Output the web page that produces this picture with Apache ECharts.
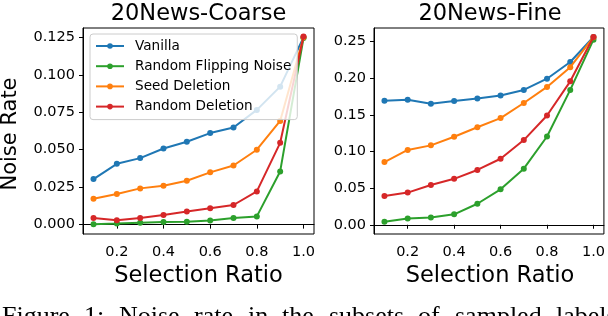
<!DOCTYPE html>
<html>
<head>
<meta charset="utf-8">
<script src="https://cdn.jsdelivr.net/npm/echarts@6/dist/echarts.min.js"></script>
<style>
html,body{margin:0;padding:0;background:#fff;}
#chart{width:608px;height:316px;}
</style>
</head>
<body>
<div id="chart"></div>
<script>
// ---- data ----
var selectionRatio = [0.1, 0.2, 0.3, 0.4, 0.5, 0.6, 0.7, 0.8, 0.9, 1.0];
var seriesNames = ['Vanilla', 'Random Flipping Noise', 'Seed Deletion', 'Random Deletion'];

var coarseVanilla   = [0.0304, 0.0406, 0.0444, 0.0508, 0.0553, 0.0611, 0.0648, 0.0766, 0.0921, 0.1250];
var coarseFlip      = [0.0003, 0.0007, 0.0013, 0.0018, 0.0020, 0.0027, 0.0044, 0.0055, 0.0355, 0.1245];
var coarseSeedDel   = [0.0173, 0.0204, 0.0242, 0.0260, 0.0293, 0.0349, 0.0395, 0.0500, 0.0692, 0.1250];
var coarseRandDel   = [0.0044, 0.0029, 0.0044, 0.0064, 0.0087, 0.0109, 0.0131, 0.0222, 0.0546, 0.1255];

var fineVanilla     = [0.1694, 0.1707, 0.1653, 0.1689, 0.1725, 0.1765, 0.1841, 0.1994, 0.2222, 0.2563];
var fineFlip        = [0.0040, 0.0085, 0.0099, 0.0143, 0.0287, 0.0484, 0.0766, 0.1205, 0.1841, 0.2527];
var fineSeedDel     = [0.0856, 0.1022, 0.1084, 0.1201, 0.1331, 0.1456, 0.1662, 0.1882, 0.2151, 0.2560];
var fineRandDel     = [0.0394, 0.0439, 0.0542, 0.0627, 0.0748, 0.0901, 0.1156, 0.1492, 0.1958, 0.2563];

var xTicks = [0.2, 0.4, 0.6, 0.8, 1.0];
var coarseYTicks = [0, 0.025, 0.05, 0.075, 0.1, 0.125];
var fineYTicks = [0, 0.05, 0.1, 0.15, 0.2, 0.25];

var titles = ['20News-Coarse', '20News-Fine'];
var xLabel = 'Selection Ratio';
var yLabel = 'Noise Rate';
var captionWords = ['Figure', '1:', 'Noise', 'rate', 'in', 'the', 'subsets', 'of', 'sampled', 'labels'];

// ---- styling ----
var colors = ['#1f77b4', '#2ca02c', '#ff7f0e', '#d62728'];
var FONT = 'DejaVu Sans';

function pairs(vals) {
  return selectionRatio.map(function (x, i) { return [x, vals[i]]; });
}

var coarseSets = [coarseVanilla, coarseFlip, coarseSeedDel, coarseRandDel];
var fineSets = [fineVanilla, fineFlip, fineSeedDel, fineRandDel];

var series = [];
[coarseSets, fineSets].forEach(function (sets, gi) {
  sets.forEach(function (vals, si) {
    series.push({
      type: 'line',
      name: seriesNames[si],
      xAxisIndex: gi,
      yAxisIndex: gi,
      data: pairs(vals),
      symbol: 'circle',
      symbolSize: 6,
      showSymbol: true,
      color: colors[si],
      lineStyle: { width: 2, color: colors[si] },
      itemStyle: { color: colors[si] },
      z: 2 + si * 0.01
    });
  });
});

function xAxisCfg(gi) {
  return {
    type: 'value', gridIndex: gi, min: 0.055, max: 1.045,
    axisLine: { show: true, lineStyle: { color: '#000', width: 1 } },
    axisTick: { show: true, length: 4, inside: false, customValues: xTicks, lineStyle: { color: '#000', width: 1 } },
    axisLabel: { customValues: xTicks, margin: 11, color: '#000', fontFamily: FONT, fontSize: 14.5,
      formatter: function (v) { return v.toFixed(1); } },
    splitLine: { show: false }
  };
}
function yAxisCfg(gi, min, max, ticks, dec) {
  return {
    type: 'value', gridIndex: gi, min: min, max: max,
    axisLine: { show: true, lineStyle: { color: '#000', width: 1 } },
    axisTick: { show: true, length: 4, inside: false, customValues: ticks, lineStyle: { color: '#000', width: 1 } },
    axisLabel: { customValues: ticks, margin: 8, color: '#000', fontFamily: FONT, fontSize: 14.5,
      formatter: function (v) { return v.toFixed(dec); } },
    splitLine: { show: false }
  };
}

// caption word x positions (layout only)
var capX = [2, 84, 119, 194, 248, 282, 329, 418, 455, 556];
var graphics = [
  { type: 'text', x: 198.5, y: 14, style: { text: titles[0], font: '22.5px "DejaVu Sans"', fill: '#000', align: 'center', verticalAlign: 'middle' } },
  { type: 'text', x: 490, y: 14, style: { text: titles[1], font: '22.5px "DejaVu Sans"', fill: '#000', align: 'center', verticalAlign: 'middle' } },
  { type: 'text', x: 198.5, y: 276, style: { text: xLabel, font: '22.5px "DejaVu Sans"', fill: '#000', align: 'center', verticalAlign: 'middle' } },
  { type: 'text', x: 490, y: 276, style: { text: xLabel, font: '22.5px "DejaVu Sans"', fill: '#000', align: 'center', verticalAlign: 'middle' } },
  { type: 'text', x: 11, y: 134, rotation: Math.PI / 2, style: { text: yLabel, font: '21px "DejaVu Sans"', fill: '#000', align: 'center', verticalAlign: 'middle' } }
];
captionWords.forEach(function (w, i) {
  graphics.push({ type: 'text', x: capX[i], y: 317, style: { text: w, font: '26px "Liberation Serif"', fill: '#000', align: 'left', verticalAlign: 'middle' } });
});

var chart = echarts.init(document.getElementById('chart'), null, { renderer: 'canvas' });
chart.setOption({
  animation: false,
  backgroundColor: '#fff',
  grid: [
    { left: 83, top: 28, width: 231, height: 206, show: true, borderColor: '#000', borderWidth: 1, backgroundColor: 'transparent' },
    { left: 374, top: 28, width: 232, height: 206, show: true, borderColor: '#000', borderWidth: 1, backgroundColor: 'transparent' }
  ],
  xAxis: [xAxisCfg(0), xAxisCfg(1)],
  yAxis: [
    yAxisCfg(0, -0.00625, 0.13125, coarseYTicks, 3),
    yAxisCfg(1, -0.0126, 0.2686, fineYTicks, 2)
  ],
  legend: {
    data: seriesNames,
    orient: 'vertical',
    left: 90, top: 34,
    padding: [5, 6, 6, 5],
    itemWidth: 28, itemHeight: 7, itemGap: 6.2,
    backgroundColor: 'rgba(255,255,255,0.8)',
    borderColor: '#cccccc', borderWidth: 1, borderRadius: 3,
    textStyle: { fontFamily: FONT, fontSize: 13.6, color: '#000', lineHeight: 14, padding: [0, 0, 0, 6] },
    selectedMode: false
  },
  graphic: graphics,
  series: series
});
</script>
</body>
</html>
